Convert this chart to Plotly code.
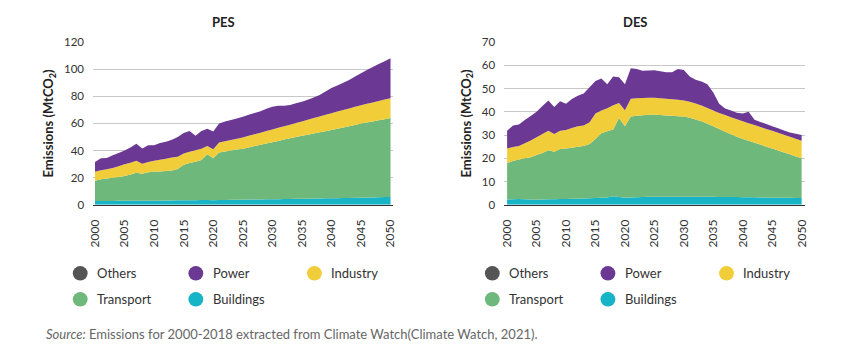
import plotly.graph_objects as go

years = list(range(2000, 2051))

sectors = ["Others", "Power", "Industry", "Transport", "Buildings"]
colors = {"Others": "#555555", "Power": "#6b3994", "Industry": "#f1cd3a",
          "Transport": "#6fb87c", "Buildings": "#17b3c6"}

# ---------------- PES (MtCO2) ----------------
pes_buildings = [2.8, 2.9, 2.9, 2.9, 3.0, 3.0, 3.0, 3.1, 3.0, 3.0, 3.1, 3.1, 3.2, 3.2, 3.3, 3.3, 3.4, 3.4, 3.5, 3.5,
                 3.3, 3.5, 3.6, 3.7, 3.7, 3.8, 3.9, 3.9, 4.0, 4.1, 4.1, 4.2, 4.3, 4.3, 4.4, 4.5, 4.5, 4.6, 4.7, 4.8,
                 4.8, 4.9, 5.0, 5.1, 5.2, 5.3, 5.4, 5.5, 5.6, 5.7, 5.8]
pes_transport = [15.0, 15.9, 16.6, 17.1, 17.5, 18.3, 19.3, 20.6, 20.0, 21.0, 21.3, 21.5, 21.8, 22.1, 23.2, 26.3, 27.4,
                 28.4, 29.6, 33.7, 31.0, 35.1, 35.7, 36.3, 37.0, 37.6, 38.4, 39.4, 40.2, 41.1, 42.1, 42.9, 43.8, 44.7,
                 45.6, 46.4, 47.2, 48.0, 48.7, 49.5, 50.3, 51.2, 52.0, 52.9, 53.7, 54.6, 55.3, 56.0, 56.7, 57.4, 58.1]
pes_industry = [6.6, 6.7, 6.7, 7.2, 8.0, 8.7, 8.7, 8.7, 7.2, 7.5, 8.0, 8.6, 9.0, 9.5, 9.0, 8.3, 8.4, 8.4, 8.3, 6.1,
                6.7, 7.4, 7.6, 7.8, 8.0, 8.3, 8.6, 8.8, 9.0, 9.2, 9.4, 9.7, 9.9, 10.1, 10.3, 10.6, 11.0, 11.3, 11.7,
                12.0, 12.4, 12.6, 12.9, 13.0, 13.3, 13.5, 13.7, 14.0, 14.2, 14.5, 14.7]
pes_power = [7.1, 8.8, 8.3, 9.3, 9.7, 10.0, 11.3, 12.6, 11.3, 12.5, 11.6, 12.3, 12.5, 13.2, 14.5, 15.1, 15.3, 10.8,
             13.1, 12.7, 13.0, 14.0, 14.6, 14.7, 15.0, 15.3, 15.5, 15.5, 15.8, 16.4, 16.7, 16.2, 15.0, 14.5, 14.5,
             14.5, 14.8, 15.1, 15.9, 17.2, 18.5, 19.3, 20.1, 21.0, 22.3, 23.6, 24.9, 26.0, 27.2, 28.2, 29.4]
pes_others = [0.0] * 51

# ---------------- DES (MtCO2) ----------------
des_buildings = [2.3, 2.4, 2.5, 2.4, 2.3, 2.2, 2.3, 2.4, 2.4, 2.5, 2.5, 2.6, 2.6, 2.7, 2.8, 2.9, 3.0, 3.2, 3.7, 3.4,
                 3.0, 3.2, 3.3, 3.4, 3.5, 3.5, 3.5, 3.5, 3.5, 3.5, 3.5, 3.5, 3.5, 3.5, 3.5, 3.5, 3.4, 3.4, 3.4, 3.4,
                 3.3, 3.3, 3.3, 3.2, 3.2, 3.1, 3.1, 3.0, 3.0, 2.9, 2.9]
des_transport = [15.7, 16.4, 17.0, 17.6, 18.2, 19.2, 20.0, 21.1, 20.4, 21.5, 21.7, 21.9, 22.4, 22.6, 23.4, 25.4, 27.8,
                 28.4, 28.7, 33.9, 30.8, 34.8, 35.0, 35.1, 35.2, 35.2, 35.1, 34.9, 34.8, 34.6, 34.5, 33.9, 33.2, 32.4,
                 31.4, 30.3, 29.2, 28.0, 26.9, 25.9, 25.0, 24.2, 23.4, 22.7, 21.8, 21.1, 20.3, 19.5, 18.7, 17.9, 17.1]
des_industry = [6.2, 6.1, 5.8, 6.5, 7.2, 7.6, 8.1, 8.3, 7.6, 7.8, 8.0, 8.5, 8.8, 8.8, 9.3, 11.0, 9.7, 9.9, 10.4, 6.5,
                6.9, 7.6, 7.5, 7.4, 7.3, 7.3, 7.2, 7.2, 7.1, 7.1, 6.9, 6.9, 6.9, 6.8, 6.7, 6.7, 6.9, 7.2, 7.4, 7.5,
                7.6, 7.6, 7.6, 7.6, 7.6, 7.6, 7.6, 7.6, 7.6, 7.6, 7.6]
des_power = [7.6, 9.2, 9.2, 10.0, 10.5, 11.0, 12.1, 13.1, 11.7, 12.7, 11.3, 12.5, 13.1, 13.8, 15.0, 13.9, 13.8, 10.3,
             12.4, 11.0, 11.1, 13.1, 12.6, 11.7, 11.7, 11.8, 11.6, 11.4, 11.6, 13.2, 13.1, 10.9, 10.2, 10.3, 10.2,
             7.8, 4.0, 2.8, 2.8, 2.8, 3.4, 4.9, 2.3, 2.1, 2.1, 2.0, 1.9, 1.9, 1.8, 2.2, 2.4]
des_others = [0.0] * 51

pes_ticks = [0, 20, 40, 60, 80, 100, 120]
des_ticks = [0, 10, 20, 30, 40, 50, 60, 70]
x_ticks = list(range(2000, 2051, 5))

FONT = "Lato"
TXT = "#333333"

fig = go.Figure()

stack_order = ["Buildings", "Transport", "Industry", "Power", "Others"]
pes = {"Buildings": pes_buildings, "Transport": pes_transport, "Industry": pes_industry,
       "Power": pes_power, "Others": pes_others}
des = {"Buildings": des_buildings, "Transport": des_transport, "Industry": des_industry,
       "Power": des_power, "Others": des_others}

for name in stack_order:
    fig.add_trace(go.Scatter(x=years, y=pes[name], name=name, stackgroup="pes", mode="none",
                             fillcolor=colors[name], xaxis="x", yaxis="y", showlegend=False,
                             line=dict(width=0)))
for name in stack_order:
    fig.add_trace(go.Scatter(x=years, y=des[name], name=name, stackgroup="des", mode="none",
                             fillcolor=colors[name], xaxis="x2", yaxis="y2", showlegend=False,
                             line=dict(width=0)))

W, H = 850, 358
OFF = 8  # page body margin shifts the figure by 8 px


def px_x(p):
    return (p - OFF) / W


def px_y(p):
    return 1 - (p - OFF) / H


xcommon = dict(tickvals=x_ticks, tickangle=-90, showgrid=False, zeroline=False,
               showline=True, linecolor="#333333", linewidth=1, ticks="",
               tickfont=dict(family=FONT, size=12, color=TXT), ticklabelstandoff=9)
ycommon = dict(showgrid=True, gridcolor="#c8c8c8", gridwidth=1.3, zeroline=False, ticks="",
               tickfont=dict(family=FONT, size=11.5, color=TXT), ticklabelstandoff=8,
               title=dict(text="<b>Emissions (MtCO<sub>2</sub>)</b>", font=dict(family=FONT, size=13, color="#222222"),
                          standoff=7))

fig.update_layout(
    width=W, height=H,
    margin=dict(l=0, r=0, t=0, b=0),
    paper_bgcolor="white", plot_bgcolor="white",
    showlegend=False,
    xaxis=dict(domain=[px_x(88), px_x(392)], range=[1999.67, 2050.5], anchor="y", **xcommon),
    yaxis=dict(domain=[px_y(205), px_y(36)], range=[0, 120], tickvals=pes_ticks, anchor="x", **ycommon),
    xaxis2=dict(domain=[px_x(504), px_x(808)], range=[1999.5, 2050.5], anchor="y2", **xcommon),
    yaxis2=dict(domain=[px_y(205), px_y(36)], range=[0, 70], tickvals=des_ticks, anchor="x2", **ycommon),
)

ann = []
ann.append(dict(text="<b>PES</b>", x=px_x(220), y=px_y(15), xref="paper", yref="paper", showarrow=False,
                font=dict(family=FONT, size=13, color="#222222"), xanchor="center", yanchor="middle"))
ann.append(dict(text="<b>DES</b>", x=px_x(637), y=px_y(15), xref="paper", yref="paper", showarrow=False,
                font=dict(family=FONT, size=13, color="#222222"), xanchor="center", yanchor="middle"))

shapes = []
legend_layout = [
    ("Others", 0, 276), ("Power", 117, 276), ("Industry", 237, 276),
    ("Transport", 0, 303), ("Buildings", 117, 303),
]
for base in (75, 492):
    for name, dx, yy in legend_layout:
        cx = base + dx
        r = 7.5
        shapes.append(dict(type="circle", xref="paper", yref="paper",
                           x0=px_x(cx - r), x1=px_x(cx + r), y0=px_y(yy + r), y1=px_y(yy - r),
                           fillcolor=colors[name], line=dict(width=0)))
        ann.append(dict(text=name, x=px_x(cx + 15), y=px_y(yy), xref="paper", yref="paper", showarrow=False,
                        xanchor="left", yanchor="middle", font=dict(family=FONT, size=13, color=TXT)))

ann.append(dict(text="<i>Source:</i> Emissions for 2000-2018 extracted from Climate Watch(Climate Watch, 2021).",
                x=px_x(38), y=px_y(339), xref="paper", yref="paper", showarrow=False,
                xanchor="left", yanchor="middle", font=dict(family=FONT, size=13, color="#666666")))

fig.update_layout(annotations=ann, shapes=shapes)

fig.write_html("out.html")
